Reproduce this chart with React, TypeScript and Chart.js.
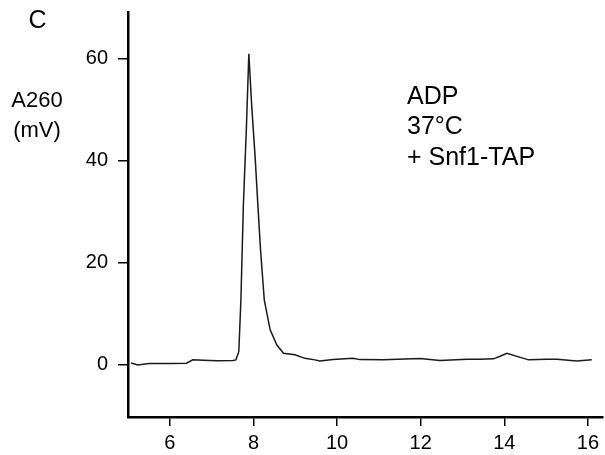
import React, { useEffect, useRef } from "react";
import { Chart, registerables } from "chart.js";

Chart.register(...registerables);

// Retention time (min)
const times = [
  5.07, 5.24, 5.5, 6.0, 6.4, 6.55, 6.8, 7.12, 7.51, 7.58, 7.65, 7.7, 7.76, 7.83,
  7.89, 7.96, 8.04, 8.11, 8.17, 8.26, 8.4, 8.56, 8.72, 8.99, 9.23, 9.47, 9.59,
  9.9, 10.38, 10.55, 11.1, 11.98, 12.46, 13.11, 13.42, 13.74, 13.9, 14.06,
  14.58, 15.02, 15.26, 15.73, 16.09,
];
// A260 signal (mV)
const signal = [
  0.4, 0.0, 0.3, 0.3, 0.35, 1.0, 0.95, 0.85, 0.9, 1.0, 2.6, 12.7, 31.5, 46.1,
  61.0, 50.6, 40.8, 30.8, 22.5, 12.7, 6.9, 3.9, 2.3, 2.0, 1.3, 1.0, 0.8, 1.05,
  1.3, 1.05, 1.0, 1.25, 0.9, 1.1, 1.1, 1.2, 1.7, 2.3, 1.0, 1.1, 1.1, 0.8, 1.0,
];

const xTicks = [6, 8, 10, 12, 14, 16];
const yTicks = [0, 20, 40, 60];

const panelLabel = "C";
const yTitleLines = ["A260", "(mV)"];
const noteLines = ["ADP", "37°C", "+ Snf1-TAP"];

const FONT = "'Liberation Sans', Arial, Helvetica, sans-serif";

const textPlugin = {
  id: "texts",
  afterDraw(chart: any) {
    const ctx = chart.ctx;
    ctx.save();
    ctx.fillStyle = "#000";
    ctx.textBaseline = "middle";
    ctx.font = `25px ${FONT}`;
    ctx.textAlign = "center";
    ctx.fillText(panelLabel, 37.5, 21);
    ctx.font = `22px ${FONT}`;
    yTitleLines.forEach((t, i) => ctx.fillText(t, 37, 101 + i * 30));
    ctx.font = `25px ${FONT}`;
    ctx.textAlign = "left";
    noteLines.forEach((t, i) => ctx.fillText(t, 407, 97 + i * 30.5));
    ctx.restore();
  },
};

export default function App() {
  const ref = useRef<HTMLCanvasElement>(null);
  useEffect(() => {
    if (!ref.current) return;
    const data = times.map((t, i) => ({ x: t, y: signal[i] }));
    const chart = new Chart(ref.current, {
      type: "line",
      data: {
        datasets: [
          {
            data,
            borderColor: "#1a1a1a",
            borderWidth: 1.5,
            pointRadius: 0,
            tension: 0,
            fill: false,
          },
        ],
      },
      plugins: [textPlugin],
      options: {
        animation: false,
        responsive: false,
        maintainAspectRatio: false,
        layout: { padding: { top: 12, right: 2, left: 0, bottom: 0 } },
        plugins: { legend: { display: false }, tooltip: { enabled: false } },
        scales: {
          x: {
            type: "linear",
            min: 5,
            max: 16.36,
            afterBuildTicks: (s: any) => {
              s.ticks = xTicks.map((v) => ({ value: v }));
            },
            afterFit: (s: any) => {
              s.height = 38;
              s.paddingLeft = 0;
              s.paddingRight = 0;
            },
            grid: {
              drawOnChartArea: false,
              drawTicks: true,
              tickLength: 9,
              color: "#000",
              lineWidth: 1.5,
            },
            border: { display: true, color: "#000", width: 2.5 },
            ticks: {
              color: "#000",
              font: { family: FONT, size: 20 },
              padding: 5,
              maxRotation: 0,
              autoSkip: false,
            },
          },
          y: {
            type: "linear",
            min: -10.2,
            max: 69.2,
            afterBuildTicks: (s: any) => {
              s.ticks = yTicks.map((v) => ({ value: v }));
            },
            afterFit: (s: any) => {
              s.width = 128;
              s.paddingTop = 0;
              s.paddingBottom = 0;
            },
            grid: {
              drawOnChartArea: false,
              drawTicks: true,
              tickLength: 10,
              color: "#000",
              lineWidth: 1.5,
            },
            border: { display: true, color: "#000", width: 2.5 },
            ticks: {
              color: "#000",
              font: { family: FONT, size: 20 },
              padding: 10,
              autoSkip: false,
            },
          },
        },
      },
    });
    return () => chart.destroy();
  }, []);
  return (
    <div style={{ position: "absolute", left: 0, top: 0, width: 605, height: 455, background: "#fff" }}>
      <canvas ref={ref} width={605} height={455} style={{ width: 605, height: 455 }} />
    </div>
  );
}
